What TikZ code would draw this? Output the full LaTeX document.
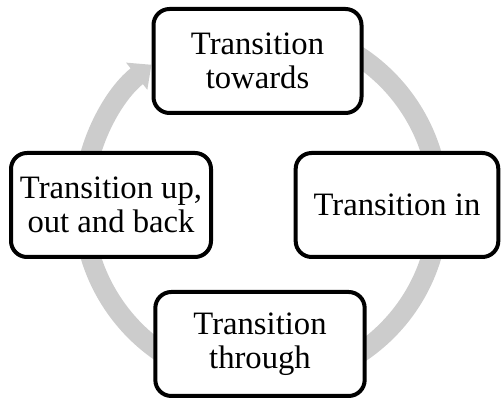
\documentclass[tikz,border=0pt]{standalone}
\usepackage{fontspec}
\setmainfont{Liberation Serif}
\usetikzlibrary{arrows.meta}
\begin{document}
\begin{tikzpicture}[x=0.75pt, y=0.75pt,
    every node/.style={font=\fontsize{24.5}{25.5}\selectfont},
    stage/.style={draw, line width=3pt, rounded corners=12pt, fill=white, align=center, minimum height=78pt},
    ring/.style={line width=15pt, draw=black!20, -{Triangle[width=25pt, length=14pt]}}]
        \useasboundingbox (0,0) rectangle (501,399);

        % Cycle ring behind the stages
        \coordinate (hub) at (261,194);
        \draw[ring] ([shift={(80:133.5pt)}]hub) arc[start angle=80, end angle=-232, radius=133.5pt];

        % Stages
        \node[stage, minimum width=156pt] (towards) at (257.5,338) {Transition\\towards};
        \node[stage, minimum width=152pt] (transin) at (397,194) {Transition in};
        \node[stage, minimum width=157pt] (through) at (260,55) {Transition\\through};
        \node[stage, minimum width=150pt] (upout) at (111,194) {Transition up,\\out and back};
\end{tikzpicture}
\end{document}
